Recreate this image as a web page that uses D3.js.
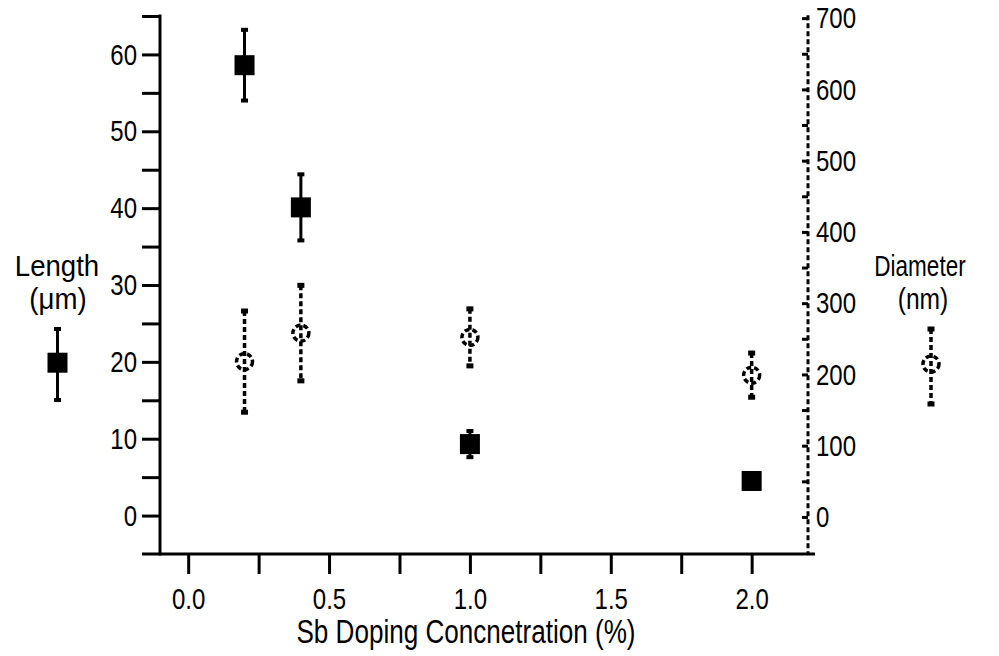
<!DOCTYPE html>
<html>
<head>
<meta charset="utf-8">
<script src="https://cdn.jsdelivr.net/npm/d3@7"></script>
<style>
  body { margin: 0; background: #fff; }
  svg text { font-family: "Liberation Sans Narrow", "Arial Narrow", "Liberation Sans", Arial, sans-serif; fill: #000; }
</style>
</head>
<body>
<svg width="999" height="656"></svg>
<script>
// Sb doping concentration (%)
const conc = [0.2, 0.4, 1.0, 2.0]
// nanowire length (um) and its error
const lengthVals = [58.6, 40.1, 9.3, 4.5]
const lengthErr = [4.6, 4.3, 1.7, 1.0]
// nanowire diameter (nm) and its error
const diamVals = [218, 258, 252, 199]
const diamErr = [71, 67, 40, 31]

const xTicks = [0, 0.25, 0.5, 0.75, 1.0, 1.25, 1.5, 1.75, 2.0]
const xLabels = [0, 0.5, 1.0, 1.5, 2.0]
const lenTicks = d3.range(0, 66, 5)
const diamTicks = d3.range(0, 701, 50)

const svg = d3.select('svg')

const x = d3.scaleLinear().domain([-0.1, 2.2]).range([160, 808])
const yL = d3.scaleLinear().domain([-5, 65]).range([554, 16])
const yR = d3.scaleLinear().domain([-52, 703]).range([554, 16])

// the original uses a narrow font; squeeze glyphs horizontally
function narrow(sel, k = 0.8) {
  sel.each(function () {
    const w = this.getComputedTextLength()
    if (w > 0) {
      d3.select(this)
        .attr('textLength', w * k)
        .attr('lengthAdjust', 'spacingAndGlyphs')
    }
  })
}

// left axis (length)
const left = svg.append('g')
  .attr('transform', 'translate(160,0)')
  .call(d3.axisLeft(yL)
    .tickValues(lenTicks)
    .tickSize(18)
    .tickPadding(5)
    .tickFormat(d => d % 10 === 0 ? d : ''))
left.select('.domain').remove()
left.append('line')
  .attr('y1', yL(65) - 1.5).attr('y2', 555.5)
  .attr('stroke', '#000').attr('stroke-width', 3)
left.selectAll('.tick line').attr('stroke-width', 3)
left.selectAll('text').attr('font-size', 30).call(narrow)

// right axis (diameter), dashed
const right = svg.append('g')
  .attr('transform', 'translate(808,0)')
  .call(d3.axisRight(yR)
    .tickValues(diamTicks)
    .tickSizeInner(-6)
    .tickSizeOuter(0)
    .tickPadding(8)
    .tickFormat(d => d % 100 === 0 ? d : ''))
right.select('.domain').remove()
right.append('line')
  .attr('y1', yR(700) - 3).attr('y2', 554)
  .attr('stroke', '#000').attr('stroke-width', 3)
  .attr('stroke-dasharray', '5,3')
right.selectAll('.tick line').attr('stroke-width', 3)
right.selectAll('text').attr('font-size', 30).call(narrow)

// bottom axis
const bottom = svg.append('g')
  .attr('transform', 'translate(0,554)')
  .call(d3.axisBottom(x)
    .tickValues(xTicks)
    .tickSize(20)
    .tickPadding(14)
    .tickFormat(d => xLabels.includes(d) ? d3.format('.1f')(d) : ''))
bottom.select('.domain').remove()
bottom.append('line')
  .attr('x1', 142).attr('x2', 815)
  .attr('stroke', '#000').attr('stroke-width', 3)
bottom.selectAll('.tick line').attr('stroke-width', 3)
bottom.selectAll('text').attr('font-size', 30).call(narrow)

svg.append('text')
  .attr('x', 466).attr('y', 643)
  .attr('text-anchor', 'middle')
  .attr('font-size', 33)
  .text('Sb Doping Concnetration (%)')
  .call(narrow, 0.79)

// length series: solid error bars + squares
const lenData = conc.map((c, i) => ({ c, v: lengthVals[i], e: lengthErr[i] }))
const lg = svg.append('g')
lg.selectAll('line.bar').data(lenData).enter().append('line')
  .attr('x1', d => x(d.c)).attr('x2', d => x(d.c))
  .attr('y1', d => yL(d.v + d.e)).attr('y2', d => yL(d.v - d.e))
  .attr('stroke', '#000').attr('stroke-width', 3)
lg.selectAll('rect.cap').data(lenData.flatMap(d => [d.v + d.e, d.v - d.e].map(v => ({ c: d.c, v }))))
  .enter().append('rect')
  .attr('x', d => x(d.c) - 3.5).attr('y', d => yL(d.v) - 2)
  .attr('width', 7).attr('height', 4)
lg.selectAll('rect.pt').data(lenData).enter().append('rect')
  .attr('x', d => x(d.c) - 10).attr('y', d => yL(d.v) - 10)
  .attr('width', 20).attr('height', 20)

// diameter series: dashed error bars + dashed circles
const diaData = conc.map((c, i) => ({ c, v: diamVals[i], e: diamErr[i] }))
const dg = svg.append('g')
dg.selectAll('line.bar').data(diaData).enter().append('line')
  .attr('x1', d => x(d.c)).attr('x2', d => x(d.c))
  .attr('y1', d => yR(d.v + d.e)).attr('y2', d => yR(d.v - d.e))
  .attr('stroke', '#000').attr('stroke-width', 3.5)
  .attr('stroke-dasharray', '5,3')
dg.selectAll('rect.cap').data(diaData.flatMap(d => [d.v + d.e, d.v - d.e].map(v => ({ c: d.c, v }))))
  .enter().append('rect')
  .attr('x', d => x(d.c) - 3.5).attr('y', d => yR(d.v) - 2.5)
  .attr('width', 7).attr('height', 5)
dg.selectAll('circle').data(diaData).enter().append('circle')
  .attr('cx', d => x(d.c)).attr('cy', d => yR(d.v))
  .attr('r', 8)
  .attr('fill', 'none')
  .attr('stroke', '#000').attr('stroke-width', 3.5)
  .attr('stroke-dasharray', '5,3')

// legends
const legL = svg.append('g')
legL.append('text').attr('x', 57).attr('y', 276).attr('text-anchor', 'middle').attr('font-size', 30).text('Length').call(narrow, 0.92)
legL.append('text').attr('x', 58).attr('y', 309).attr('text-anchor', 'middle').attr('font-size', 30).text('(μm)').call(narrow, 0.92)
legL.append('line').attr('x1', 57.5).attr('x2', 57.5).attr('y1', 329).attr('y2', 400)
  .attr('stroke', '#000').attr('stroke-width', 3)
legL.append('rect').attr('x', 54).attr('y', 327).attr('width', 7).attr('height', 4)
legL.append('rect').attr('x', 54).attr('y', 398).attr('width', 7).attr('height', 4)
legL.append('rect').attr('x', 47.5).attr('y', 352.7).attr('width', 20).attr('height', 20)

const legR = svg.append('g')
legR.append('text').attr('x', 920).attr('y', 276).attr('text-anchor', 'middle').attr('font-size', 30).text('Diameter').call(narrow, 0.75)
legR.append('text').attr('x', 923).attr('y', 309).attr('text-anchor', 'middle').attr('font-size', 30).text('(nm)').call(narrow, 0.82)
legR.append('line').attr('x1', 931).attr('x2', 931).attr('y1', 329).attr('y2', 404)
  .attr('stroke', '#000').attr('stroke-width', 3.5).attr('stroke-dasharray', '5,3')
legR.append('rect').attr('x', 927.5).attr('y', 326.5).attr('width', 7).attr('height', 5)
legR.append('rect').attr('x', 927.5).attr('y', 401.5).attr('width', 7).attr('height', 5)
legR.append('circle').attr('cx', 931).attr('cy', 364).attr('r', 8)
  .attr('fill', 'none').attr('stroke', '#000').attr('stroke-width', 3.5).attr('stroke-dasharray', '5,3')
</script>
</body>
</html>
